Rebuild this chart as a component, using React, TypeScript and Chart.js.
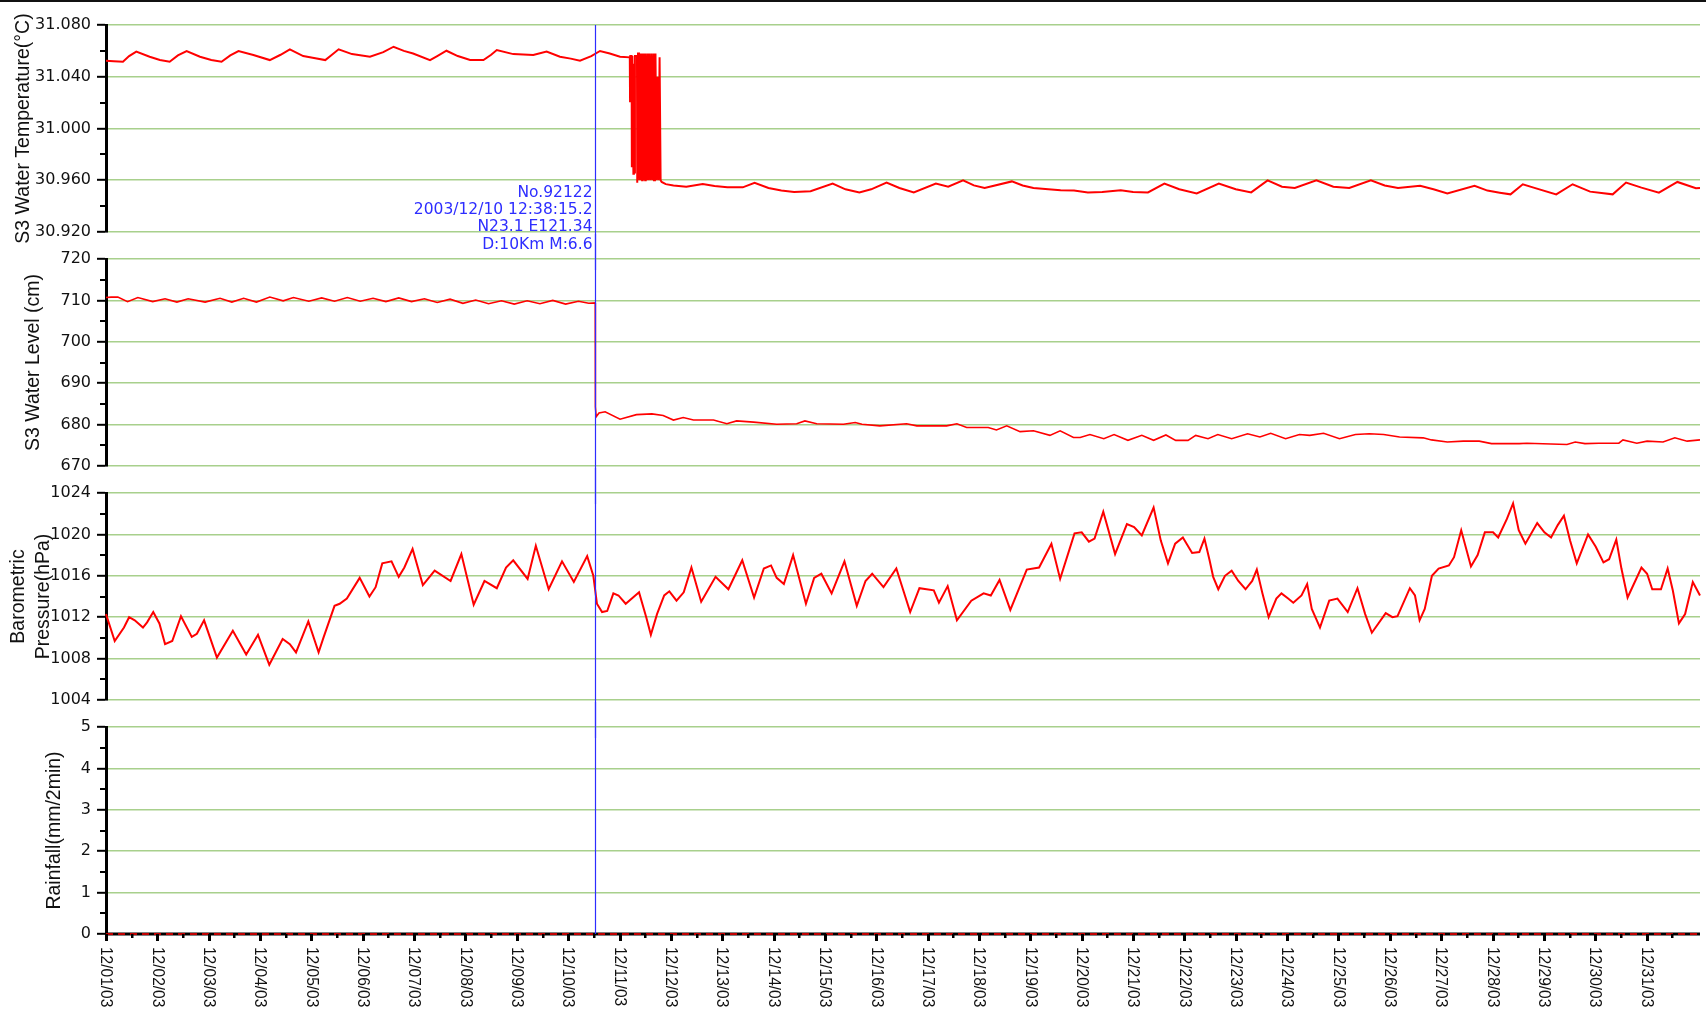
import React, { useEffect, useRef } from "react";
import { Chart, registerables } from "chart.js";
Chart.register(...registerables);

// ---------- categories / tick labels ----------
const dateLabels = [
  "12/01/03", "12/02/03", "12/03/03", "12/04/03", "12/05/03", "12/06/03", "12/07/03", "12/08/03",
  "12/09/03", "12/10/03", "12/11/03", "12/12/03", "12/13/03", "12/14/03", "12/15/03", "12/16/03",
  "12/17/03", "12/18/03", "12/19/03", "12/20/03", "12/21/03", "12/22/03", "12/23/03", "12/24/03",
  "12/25/03", "12/26/03", "12/27/03", "12/28/03", "12/29/03", "12/30/03", "12/31/03",
];
const X_MAX = 31.04; // days since 12/01 00:00

const tempTicks = [30.92, 30.96, 31.0, 31.04, 31.08];
const tempTickLabels = ["30.920", "30.960", "31.000", "31.040", "31.080"];
const levelTicks = [670, 680, 690, 700, 710, 720];
const levelTickLabels = ["670", "680", "690", "700", "710", "720"];
const pressureTicks = [1004, 1008, 1012, 1016, 1020, 1024];
const pressureTickLabels = ["1004", "1008", "1012", "1016", "1020", "1024"];
const rainTicks = [0, 1, 2, 3, 4, 5];
const rainTickLabels = ["0", "1", "2", "3", "4", "5"];

// ---------- earthquake marker ----------
const quakeDay = 9.527; // 2003/12/10 12:38
const quakeText = ["No.92122", "2003/12/10 12:38:15.2", "N23.1 E121.34", "D:10Km M:6.6"];

// ---------- series: [day, value] ----------
const tempSeries: [number, number][] = [
  [0, 31.0524], [0.15, 31.052], [0.33, 31.0516], [0.45, 31.056], [0.59, 31.0594], [0.85, 31.0555],
  [1.05, 31.053], [1.24, 31.0516], [1.4, 31.0565], [1.57, 31.0599], [1.83, 31.0555], [2.05, 31.053],
  [2.25, 31.0516], [2.42, 31.0565], [2.58, 31.0599], [2.87, 31.0568], [3.19, 31.0529], [3.4, 31.057],
  [3.58, 31.0612], [3.84, 31.056], [4.05, 31.0545], [4.27, 31.0529], [4.4, 31.057], [4.53, 31.0612],
  [4.79, 31.0575], [5.14, 31.0555], [5.4, 31.059], [5.6, 31.0632], [5.8, 31.06], [5.98, 31.058],
  [6.31, 31.0529], [6.45, 31.056], [6.63, 31.0601], [6.85, 31.056], [7.09, 31.0529], [7.35, 31.0529],
  [7.5, 31.057], [7.61, 31.0606], [7.93, 31.0575], [8.32, 31.0568], [8.58, 31.0594], [8.84, 31.0555],
  [9.05, 31.054], [9.23, 31.0524], [9.45, 31.056], [9.62, 31.0599], [9.81, 31.058], [10.01, 31.0555],
  [10.2, 31.055], [10.205, 31.021], [10.21, 31.056], [10.235, 31.056], [10.24, 30.97], [10.25, 31.056],
  [10.27, 30.965], [10.28, 31.05], [10.29, 30.966], [10.3, 31.056], [10.34, 31.056], [10.345, 30.958],
  [10.36, 31.058], [10.38, 31.058], [10.385, 30.96], [10.4, 31.058], [10.41, 30.96], [10.42, 31.058],
  [10.44, 30.96], [10.45, 31.058], [10.47, 30.96], [10.48, 31.058], [10.5, 30.96], [10.51, 31.058],
  [10.53, 30.96], [10.55, 31.058], [10.56, 30.96], [10.58, 31.058], [10.6, 30.96], [10.62, 31.058],
  [10.64, 30.96], [10.66, 31.058], [10.67, 30.96], [10.69, 30.96], [10.7, 31.058], [10.72, 30.96],
  [10.74, 31.04], [10.76, 30.96], [10.78, 31.055], [10.8, 30.96], [10.82, 30.9587], [10.9, 30.957],
  [11.05, 30.956], [11.3, 30.955], [11.62, 30.957], [11.85, 30.9555], [12.1, 30.9545], [12.4, 30.9545],
  [12.63, 30.958], [12.9, 30.954], [13.15, 30.952], [13.4, 30.951], [13.72, 30.9515], [14.15, 30.9574],
  [14.4, 30.953], [14.67, 30.9506], [14.9, 30.953], [15.2, 30.9582], [15.45, 30.954], [15.73, 30.9506],
  [16.16, 30.9574], [16.4, 30.955], [16.69, 30.9599], [16.9, 30.956], [17.11, 30.954], [17.64, 30.9591],
  [17.85, 30.956], [18.06, 30.954], [18.35, 30.953], [18.59, 30.9523], [18.85, 30.952], [19.12, 30.9506],
  [19.4, 30.951], [19.76, 30.9523], [20.0, 30.951], [20.29, 30.9506], [20.61, 30.9574], [20.9, 30.953],
  [21.24, 30.9498], [21.67, 30.9574], [22.0, 30.953], [22.3, 30.9506], [22.62, 30.9599], [22.9, 30.955],
  [23.15, 30.954], [23.57, 30.9599], [23.9, 30.955], [24.21, 30.954], [24.63, 30.9599], [24.9, 30.956],
  [25.16, 30.954], [25.59, 30.9557], [25.85, 30.953], [26.12, 30.9498], [26.65, 30.9557], [26.9, 30.952],
  [27.14, 30.9504], [27.35, 30.9491], [27.59, 30.9569], [27.8, 30.9543], [28.24, 30.9491], [28.56, 30.9569],
  [28.9, 30.9512], [29.34, 30.9491], [29.6, 30.9582], [29.9, 30.9543], [30.24, 30.9504], [30.6, 30.9587],
  [30.96, 30.9538], [31.04, 30.954],
];

const levelSeries: [number, number][] = [
  [0, 710.7], [0.1, 710.8], [0.23, 710.8], [0.42, 709.7], [0.62, 710.7], [0.91, 709.7], [1.15, 710.4],
  [1.38, 709.6], [1.6, 710.4], [1.93, 709.6], [2.22, 710.5], [2.45, 709.6], [2.68, 710.5], [2.93, 709.6],
  [3.19, 710.8], [3.45, 709.9], [3.65, 710.7], [3.95, 709.8], [4.2, 710.6], [4.45, 709.8], [4.7, 710.7],
  [4.95, 709.8], [5.2, 710.5], [5.45, 709.7], [5.7, 710.6], [5.95, 709.7], [6.2, 710.4], [6.45, 709.5],
  [6.7, 710.3], [6.95, 709.3], [7.2, 710.1], [7.45, 709.2], [7.7, 709.9], [7.95, 709.1], [8.2, 709.9],
  [8.45, 709.2], [8.7, 710.0], [8.95, 709.1], [9.2, 709.8], [9.4, 709.3], [9.527, 709.4], [9.53, 684.3],
  [9.545, 681.9], [9.6, 682.8], [9.72, 683.1], [10.01, 681.3], [10.33, 682.4], [10.63, 682.6],
  [10.85, 682.2], [11.05, 681.1], [11.24, 681.7], [11.44, 681.1], [11.83, 681.1], [12.09, 680.2],
  [12.28, 680.9], [12.61, 680.6], [13.06, 680.1], [13.45, 680.2], [13.61, 680.9], [13.84, 680.2],
  [14.36, 680.1], [14.59, 680.5], [14.72, 680.1], [15.07, 679.7], [15.59, 680.2], [15.79, 679.7],
  [16.37, 679.7], [16.57, 680.2], [16.76, 679.3], [17.18, 679.3], [17.34, 678.7], [17.54, 679.7],
  [17.8, 678.3], [18.06, 678.5], [18.38, 677.4], [18.58, 678.5], [18.84, 676.9], [18.97, 676.9],
  [19.16, 677.6], [19.43, 676.6], [19.63, 677.6], [19.9, 676.2], [20.17, 677.4], [20.4, 676.2],
  [20.64, 677.5], [20.83, 676.2], [21.07, 676.2], [21.22, 677.4], [21.46, 676.6], [21.65, 677.6],
  [21.92, 676.6], [22.23, 677.8], [22.47, 677.0], [22.68, 677.9], [22.97, 676.6], [23.24, 677.6],
  [23.44, 677.4], [23.71, 677.9], [24.02, 676.6], [24.33, 677.6], [24.6, 677.8], [24.88, 677.6],
  [25.19, 677.0], [25.65, 676.8], [25.81, 676.3], [26.12, 675.8], [26.43, 676.0], [26.74, 676.0],
  [26.98, 675.4], [27.52, 675.4], [27.67, 675.5], [28.45, 675.2], [28.61, 675.8], [28.8, 675.4],
  [29.07, 675.5], [29.46, 675.5], [29.54, 676.3], [29.81, 675.5], [30.01, 676.0], [30.32, 675.8],
  [30.55, 676.8], [30.79, 676.0], [31.04, 676.3],
];

const pressureSeries: [number, number][] = [
  [0, 1012.3], [0.17, 1009.7], [0.35, 1011], [0.45, 1012], [0.56, 1011.7], [0.72, 1011], [0.8, 1011.5],
  [0.92, 1012.5], [1.04, 1011.4], [1.15, 1009.4], [1.29, 1009.7], [1.46, 1012.1], [1.67, 1010.1],
  [1.77, 1010.4], [1.91, 1011.7], [2.16, 1008.1], [2.47, 1010.7], [2.73, 1008.4], [2.96, 1010.3],
  [3.18, 1007.4], [3.44, 1009.9], [3.58, 1009.4], [3.7, 1008.6], [3.94, 1011.6], [4.14, 1008.6],
  [4.24, 1010.1], [4.45, 1013.1], [4.55, 1013.3], [4.69, 1013.8], [4.94, 1015.8], [5.13, 1014],
  [5.25, 1014.9], [5.38, 1017.2], [5.56, 1017.4], [5.7, 1015.9], [5.81, 1016.8], [5.97, 1018.6],
  [6.17, 1015.1], [6.4, 1016.5], [6.71, 1015.5], [6.92, 1018.1], [7.16, 1013.2], [7.37, 1015.5],
  [7.61, 1014.8], [7.79, 1016.8], [7.93, 1017.5], [8.21, 1015.7], [8.37, 1018.9], [8.62, 1014.7],
  [8.88, 1017.4], [9.11, 1015.4], [9.37, 1017.9], [9.49, 1016], [9.56, 1013.3], [9.66, 1012.5],
  [9.76, 1012.6], [9.88, 1014.3], [9.98, 1014.1], [10.12, 1013.3], [10.38, 1014.4], [10.52, 1012.0],
  [10.61, 1010.3], [10.73, 1012.3], [10.87, 1014.1], [10.97, 1014.5], [11.11, 1013.6], [11.25, 1014.4],
  [11.4, 1016.8], [11.59, 1013.5], [11.87, 1015.9], [12.12, 1014.7], [12.39, 1017.5], [12.62, 1013.9],
  [12.81, 1016.7], [12.95, 1017], [13.06, 1015.8], [13.2, 1015.2], [13.38, 1018], [13.63, 1013.3],
  [13.79, 1015.8], [13.93, 1016.2], [14.13, 1014.3], [14.38, 1017.4], [14.62, 1013.1], [14.79, 1015.5],
  [14.92, 1016.2], [15.14, 1014.9], [15.39, 1016.7], [15.66, 1012.5], [15.84, 1014.8], [16.12, 1014.6],
  [16.22, 1013.4], [16.39, 1015], [16.57, 1011.7], [16.85, 1013.6], [17.09, 1014.3], [17.23, 1014.1],
  [17.4, 1015.6], [17.61, 1012.7], [17.93, 1016.6], [18.17, 1016.8], [18.41, 1019.1], [18.58, 1015.7],
  [18.86, 1020.1], [19.0, 1020.2], [19.14, 1019.3], [19.25, 1019.6], [19.42, 1022.2], [19.65, 1018.1],
  [19.88, 1021], [20.02, 1020.7], [20.17, 1019.9], [20.4, 1022.6], [20.54, 1019.4], [20.68, 1017.2],
  [20.82, 1019.1], [20.97, 1019.7], [21.15, 1018.2], [21.29, 1018.3], [21.39, 1019.6], [21.49, 1017.5],
  [21.56, 1015.9], [21.66, 1014.7], [21.79, 1016], [21.92, 1016.5], [22.05, 1015.5], [22.19, 1014.7],
  [22.32, 1015.5], [22.41, 1016.6], [22.52, 1014.3], [22.64, 1012], [22.79, 1013.8], [22.89, 1014.3],
  [23.02, 1013.8], [23.12, 1013.4], [23.28, 1014.1], [23.39, 1015.2], [23.48, 1012.8], [23.64, 1011],
  [23.82, 1013.6], [23.98, 1013.8], [24.18, 1012.5], [24.37, 1014.8], [24.52, 1012.3], [24.65, 1010.5],
  [24.92, 1012.4], [25.05, 1012], [25.15, 1012.1], [25.39, 1014.8], [25.49, 1014.1], [25.58, 1011.7],
  [25.68, 1012.8], [25.82, 1016], [25.95, 1016.7], [26.15, 1017], [26.25, 1017.8], [26.39, 1020.4],
  [26.58, 1016.9], [26.71, 1018], [26.85, 1020.2], [27.01, 1020.2], [27.11, 1019.7], [27.28, 1021.5],
  [27.4, 1023], [27.51, 1020.4], [27.64, 1019.1], [27.87, 1021.1], [28.01, 1020.2], [28.14, 1019.7],
  [28.27, 1020.9], [28.39, 1021.8], [28.51, 1019.4], [28.64, 1017.2], [28.86, 1020], [29.01, 1018.8],
  [29.16, 1017.3], [29.27, 1017.6], [29.41, 1019.5], [29.51, 1016.7], [29.63, 1013.9], [29.9, 1016.8],
  [30.01, 1016.2], [30.11, 1014.7], [30.28, 1014.7], [30.41, 1016.7], [30.51, 1014.6], [30.63, 1011.4],
  [30.75, 1012.3], [30.9, 1015.4], [31.04, 1014.1],
];

const rainDays = [0, 5, 10, 15, 20, 25, 31.04];
const rainValues = [0, 0, 0, 0, 0, 0, 0];

// ---------- styles ----------
const GRID = "rgb(168,208,140)";
const RED = "rgb(255,0,0)";
const BLUE = "rgb(45,45,255)";
const TICK_FONT = "'DejaVu Sans', sans-serif";
const TITLE_FONT = "'Liberation Sans', Arial, sans-serif";
const W = 1706;
const AXIS_W = 106;

type Panel = {
  key: string;
  top: number;
  height: number;
  padTop: number;
  padBottom: number;
  series: [number, number][];
  min: number;
  max: number;
  ticks: number[];
  tickLabels: string[];
  title: string | string[];
  titlePad: number;
  lineWidth: number;
  first?: boolean;
  last?: boolean;
  dashed?: boolean;
};

const panels: Panel[] = [
  {
    key: "temp", top: 0, height: 270, padTop: 25, padBottom: 38,
    series: tempSeries, min: 30.92, max: 31.08, ticks: tempTicks, tickLabels: tempTickLabels,
    title: "S3 Water Temperature(\u00B0C)", titlePad: 11, lineWidth: 2, first: true,
  },
  {
    key: "level", top: 234, height: 270, padTop: 25, padBottom: 38,
    series: levelSeries, min: 670, max: 720, ticks: levelTicks, tickLabels: levelTickLabels,
    title: "S3 Water Level (cm)", titlePad: 21, lineWidth: 1.6,
  },
  {
    key: "press", top: 468, height: 270, padTop: 25, padBottom: 38,
    series: pressureSeries, min: 1004, max: 1024, ticks: pressureTicks, tickLabels: pressureTickLabels,
    title: ["Barometric", "Pressure(hPa)"], titlePad: 6, lineWidth: 2,
  },
  {
    key: "rain", top: 702, height: 308, padTop: 25, padBottom: 76,
    series: rainDays.map((d, i) => [d, rainValues[i]] as [number, number]),
    min: 0, max: 5, ticks: rainTicks, tickLabels: rainTickLabels,
    title: "Rainfall(mm/2min)", titlePad: 42, lineWidth: 1.5, last: true, dashed: true,
  },
];

function makePlugin(p: Panel) {
  return {
    id: "deco_" + p.key,
    beforeDatasetsDraw(chart: any) {
      if (!p.last) return;
      const { ctx, chartArea } = chart;
      ctx.save();
      ctx.fillStyle = "#000";
      ctx.fillRect(chartArea.left - 1, chartArea.bottom - 1.5, chartArea.right - chartArea.left + 1, 3);
      ctx.restore();
    },
    afterDatasetsDraw(chart: any) {
      const { ctx, chartArea } = chart;
      const xs = chart.scales.x;
      const ys = chart.scales.y;
      ctx.save();
      // minor y ticks
      ctx.fillStyle = "#000";
      for (let i = 0; i < p.ticks.length - 1; i++) {
        const y = ys.getPixelForValue((p.ticks[i] + p.ticks[i + 1]) / 2);
        ctx.fillRect(chartArea.left - 6, Math.round(y) - 1, 6, 2);
      }
      // earthquake line
      const qx = Math.round(xs.getPixelForValue(quakeDay)) + 0.5;
      const y0 = p.first ? chartArea.top : 0;
      const y1 = p.last ? chartArea.bottom : chart.height;
      ctx.strokeStyle = BLUE;
      ctx.lineWidth = 1.2;
      ctx.beginPath();
      ctx.moveTo(qx, y0);
      ctx.lineTo(qx, y1);
      ctx.stroke();
      if (p.first) {
        ctx.fillStyle = "#111";
        ctx.fillRect(0, 0, W, 2);
        ctx.fillStyle = BLUE;
        ctx.font = `15.5px ${TICK_FONT}`;
        ctx.textAlign = "right";
        ctx.textBaseline = "middle";
        quakeText.forEach((t, i) => {
          ctx.fillText(t, qx - 3, chartArea.bottom - 39.5 + i * 17.4);
        });
      }
      if (p.last) {
        const by = chartArea.bottom;
        ctx.fillStyle = "#000";
        for (let k = 0; k < dateLabels.length; k++) {
          const x = Math.round(xs.getPixelForValue(k));
          ctx.fillRect(x - 1, by, 3, 7);
          const xm = Math.round(xs.getPixelForValue(k + 0.5));
          if (k + 0.5 < X_MAX) ctx.fillRect(xm - 1, by, 2.5, 4);
        }
        ctx.fillStyle = "#111";
        ctx.font = `15.5px ${TITLE_FONT}`;
        ctx.textAlign = "left";
        ctx.textBaseline = "middle";
        dateLabels.forEach((lab, k) => {
          const x = xs.getPixelForValue(k);
          ctx.save();
          ctx.translate(x, by + 13);
          ctx.rotate(Math.PI / 2);
          ctx.scale(1, 1.12);
          ctx.fillText(lab, 0, 0);
          ctx.restore();
        });
      }
      ctx.restore();
    },
  };
}

function PanelChart({ p }: { p: Panel }) {
  const ref = useRef<HTMLCanvasElement | null>(null);
  useEffect(() => {
    if (!ref.current) return;
    const chart = new Chart(ref.current, {
      type: "line",
      data: {
        datasets: [
          {
            data: p.series.map(([x, y]) => ({ x, y })),
            borderColor: RED,
            borderWidth: p.lineWidth,
            borderDash: p.dashed ? [7, 5] : [],
            pointRadius: 0,
            tension: 0,
            fill: false,
            clip: p.dashed ? false : 2,
          } as any,
        ],
      },
      options: {
        animation: false,
        responsive: false,
        devicePixelRatio: 1,
        events: [],
        layout: { padding: { top: p.padTop, bottom: p.padBottom, left: 0, right: 6 } },
        plugins: { legend: { display: false }, tooltip: { enabled: false } },
        scales: {
          x: { type: "linear", min: 0, max: X_MAX, display: false },
          y: {
            type: "linear",
            min: p.min,
            max: p.max,
            afterBuildTicks: (s: any) => {
              s.ticks = p.ticks.map((v) => ({ value: v }));
            },
            afterFit: (s: any) => {
              s.width = AXIS_W;
            },
            ticks: {
              autoSkip: false,
              callback: (_v: any, i: number) => p.tickLabels[i],
              font: { family: TICK_FONT, size: 16 },
              color: "#111",
              padding: 6,
            },
            grid: {
              color: GRID,
              lineWidth: 1.6,
              drawTicks: true,
              tickLength: 9,
              tickColor: "#000",
              tickWidth: 2,
            },
            border: { display: true, color: "#000", width: 3 },
            title: {
              display: true,
              text: p.title,
              color: "#111",
              font: { family: TITLE_FONT, size: 19.5, lineHeight: 1.3 },
              padding: { top: p.titlePad, bottom: 0 },
            },
          } as any,
        },
      },
      plugins: [makePlugin(p)],
    });
    return () => chart.destroy();
  }, [p]);
  return (
    <canvas
      ref={ref}
      width={W}
      height={p.height}
      style={{ position: "absolute", left: 0, top: p.top, width: W, height: p.height }}
    />
  );
}

export default function App() {
  return (
    <div
      style={{
        position: "absolute",
        left: 0,
        top: 0,
        width: W,
        height: 1010,
        background: "#fff",
        overflow: "hidden",
      }}
    >
      {panels.map((p) => (
        <PanelChart key={p.key} p={p} />
      ))}
    </div>
  );
}
